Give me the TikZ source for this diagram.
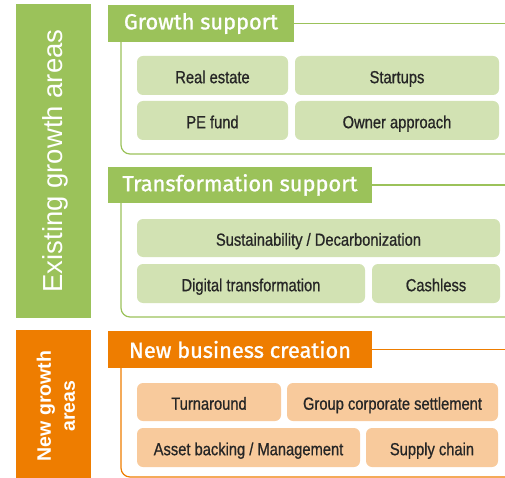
\documentclass[tikz,border=0pt]{standalone}
\usepackage{fontspec}
\setmainfont{Liberation Sans}
\newfontfamily\hfont[FakeBold=1.2]{Fira Sans}
\newfontfamily\vfont{Liberation Sans}
\newfontfamily\bfont[FakeStretch=0.84,FakeBold=0.8]{Liberation Sans}
\definecolor{gdark}{HTML}{9BC25A}
\definecolor{glight}{HTML}{D2E2B3}
\definecolor{odark}{HTML}{EE7D00}
\definecolor{olight}{HTML}{F8CA9C}
\definecolor{txt}{HTML}{262626}
\tikzset{
  bar/.style={fill=#1, draw=none, inner sep=0pt},
  head/.style={fill=#1, draw=none, inner sep=0pt, text=white, minimum height=37pt, font=\hfont\fontsize{21.8}{24}\selectfont},
  item/.style={fill=#1, draw=none, rounded corners=6pt, inner sep=0pt, minimum height=39pt, text height=15.4pt, text depth=0pt, text=txt, font=\bfont\fontsize{17.5}{20}\selectfont},
  frame/.style={draw=#1, color=#1, line width=1.2pt, rounded corners=9pt},
  hline/.style={draw=#1, color=#1, line width=1.2pt}
}
\begin{document}
\begin{tikzpicture}[x=1pt,y=-1pt]
\useasboundingbox (0,0) rectangle (505,478);
% left bars
\node[bar=gdark, minimum width=75pt, minimum height=314pt] (existing) at (53.5,161) {};
\node[rotate=90, text=white, inner sep=0pt, font=\vfont\fontsize{27.5}{30}\selectfont] (existingtxt) at (55,161) {Existing growth areas};
\node[bar=odark, minimum width=75pt, minimum height=148pt] (newbar) at (53.5,404) {};
\node[rotate=90, text=white, align=center, inner sep=0pt, font=\vfont\bfseries\fontsize{19.5}{24}\selectfont] (newtxt) at (56,406) {New growth\\areas};
% growth support
\node[head=gdark, minimum width=186pt] (gs) at (201,23.5) {Growth support};
\coordinate (gsR) at (505,23.5);
\coordinate (gsB) at (505,154);
\draw[hline=gdark] (gs.east) -- (gsR);
\draw[frame=gdark] (121,42) -- (121,154) -- (gsB);
\node[item=glight, minimum width=151pt] (re) at (212.5,75.5) {Real estate};
\node[item=glight, minimum width=204pt] (su) at (397,75.5) {Startups};
\node[item=glight, minimum width=151pt] (pe) at (212.5,120.5) {PE fund};
\node[item=glight, minimum width=204pt] (oa) at (397,120.5) {Owner approach};
% transformation support
\node[head=gdark, minimum width=264pt, minimum height=36pt] (ts) at (240,185) {Transformation support};
\coordinate (tsR) at (505,185);
\coordinate (tsB) at (505,317);
\draw[hline=gdark] (ts.east) -- (tsR);
\draw[frame=gdark] (121,203) -- (121,317) -- (tsB);
\node[item=glight, minimum width=363pt, minimum height=38pt] (sd) at (318.5,238) {Sustainability / Decarbonization};
\node[item=glight, minimum width=228pt] (dt) at (251,283.5) {Digital transformation};
\node[item=glight, minimum width=128pt] (ca) at (436,283.5) {Cashless};
% new business creation
\node[head=odark, minimum width=264pt] (nb) at (240,349.5) {New business creation};
\coordinate (nbR) at (505,349.5);
\coordinate (nbB) at (505,477);
\draw[hline=odark] (nb.east) -- (nbR);
\draw[frame=odark] (121,368) -- (121,477) -- (nbB);
\node[item=olight, minimum width=144pt, minimum height=38pt] (ta) at (209,402) {Turnaround};
\node[item=olight, minimum width=211pt, minimum height=38pt] (gc) at (392.5,402) {Group corporate settlement};
\node[item=olight, minimum width=223pt] (ab) at (248.5,447.5) {Asset backing / Management};
\node[item=olight, minimum width=132pt] (sc) at (432,447.5) {Supply chain};
\end{tikzpicture}
\end{document}
